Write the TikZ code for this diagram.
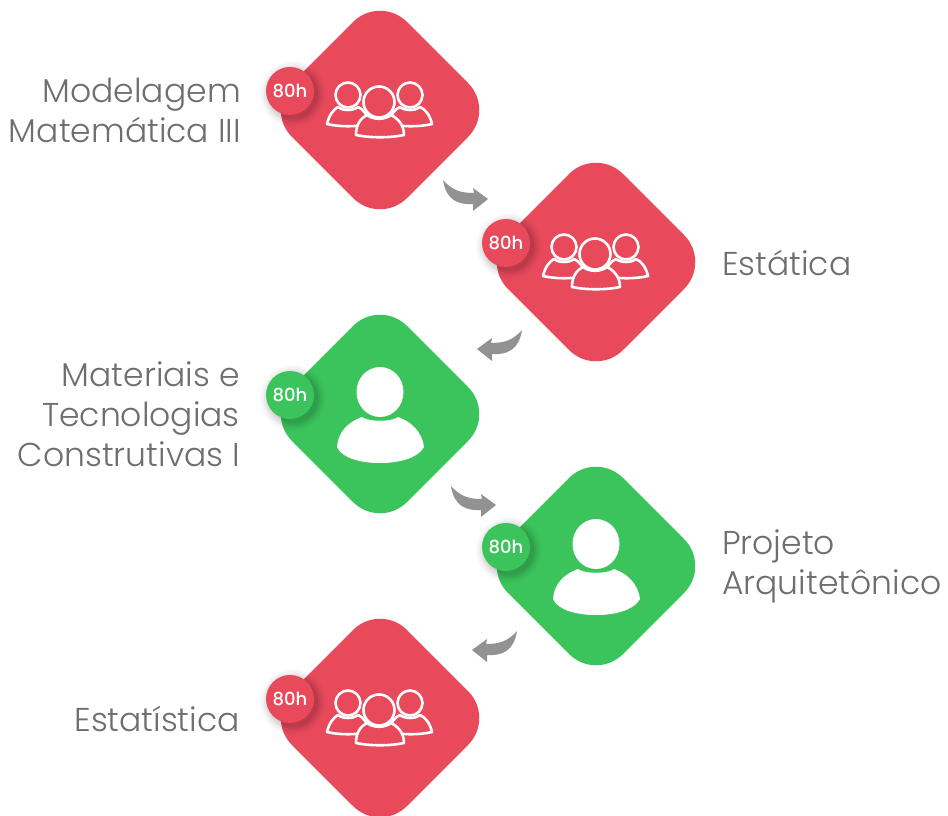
\documentclass[tikz,border=0pt]{standalone}
\usepackage{fontspec}
\setmainfont{Poppins}[UprightFont=* Light]
\newfontfamily\badgefont{Poppins}[UprightFont=* Medium]
\definecolor{redc}{HTML}{E84A5C}
\definecolor{greenc}{HTML}{3CC45C}
\definecolor{textc}{HTML}{6E6E6E}
\definecolor{arrowc}{HTML}{929292}
\tikzset{
  x=1pt,y=-1pt,
  label/.style={text=textc,font=\fontsize{33}{40}\selectfont,inner sep=0pt},
  lefttext/.style={label,anchor=east,align=right},
  righttext/.style={label,anchor=west,align=left},
  badgetext/.style={text=white,font=\badgefont\fontsize{18}{20}\selectfont,inner sep=0pt},
  icon/.style={draw=white,line width=2.6pt,line join=round},
  pics/card/.style={code={
    \fill[#1,rounded corners=38pt] (-115,0) -- (0,-115) -- (115,0) -- (0,115) -- cycle;
  }},
  pics/badge/.style={code={
    \foreach \r/\o in {33/.02,31/.03,29/.04,27/.05,25/.06}
      \fill[black,opacity=\o] (-87,-16) circle[radius=\r];
    \fill[#1] (-90,-19) circle[radius=24];
    \node[badgetext] at (-90,-19) {80h};
  }},
  pics/group/.style={code={
    % side persons
    \draw[icon] (-32,-15) circle[radius=12.5];
    \draw[icon] (30,-15) circle[radius=12.5];
    \draw[icon] (-53,14) .. controls (-51,5) and (-46,-1) .. (-42,-3)
       .. controls (-37,1) and (-27,1) .. (-22,-3) .. controls (-17,-1) and (-12,5) .. (-11,14)
       .. controls (-24,17) and (-40,17) .. (-53,14) -- cycle;
    \draw[icon] (52,14) .. controls (50,5) and (45,-1) .. (40,-3)
       .. controls (35,1) and (25,1) .. (20,-3) .. controls (15,-1) and (10,5) .. (9,14)
       .. controls (22,17) and (39,17) .. (52,14) -- cycle;
    % centre person
    \draw[icon,fill=#1] (-1,-8) circle[radius=15.5];
    \draw[icon,fill=#1] (-24,25) .. controls (-24,14) and (-19,8) .. (-13,5)
       .. controls (-7,10) and (5,10) .. (11,5) .. controls (17,8) and (24,14) .. (24,25)
       .. controls (10,28) and (-10,28) .. (-24,25) -- cycle;
  }},
  pics/solo/.style={code={
    \fill[white] (0,-22) ellipse[x radius=23.5,y radius=25];
    \fill[white] (-43,33) .. controls (-42,18) and (-32,8) .. (-18,3)
      .. controls (-12,8) and (12,8) .. (18,3) .. controls (32,8) and (42,18) .. (44,33)
      .. controls (38,44) and (20,49) .. (0,49) .. controls (-20,49) and (-38,44) .. (-43,33) -- cycle;
  }},
  pics/bend/.style={code={
    \fill[arrowc] (-45,-19) .. controls (-36,-9) and (-28,-6) .. (-14,-6) -- (-15,-11) -- (0,0)
      -- (-15,12) -- (-15,5) .. controls (-30,6) and (-42,1) .. (-45,-19) -- cycle;
  }}
}
\begin{document}
\begin{tikzpicture}
\useasboundingbox (0,0) rectangle (948,816);
\coordinate (c1) at (380,110);
\coordinate (c2) at (596,262);
\coordinate (c3) at (380,414);
\coordinate (c4) at (596,566);
\coordinate (c5) at (380,718);
\coordinate (a1) at (488,199);
\coordinate (a2) at (477,349);
\coordinate (a3) at (496,505);
\coordinate (a4) at (472,650);

\pic at (c1) {card=redc};
\pic at (c2) {card=redc};
\pic at (c3) {card=greenc};
\pic at (c4) {card=greenc};
\pic at (c5) {card=redc};

\pic at (c1) {group=redc};
\pic at (c2) {group=redc};
\pic at (c3) {solo};
\pic at (c4) {solo};
\pic at (c5) {group=redc};

\pic at (c1) {badge=redc};
\pic at (c2) {badge=redc};
\pic at (c3) {badge=greenc};
\pic at (c4) {badge=greenc};
\pic at (c5) {badge=redc};

\pic at (a1) {bend};
\pic[xscale=-1] at (a2) {bend};
\pic at (a3) {bend};
\pic[xscale=-1] at (a4) {bend};

\node[lefttext] (t1) at (241,110) {Modelagem\\Matemática III};
\node[righttext] (t2) at (722,263) {Estática};
\node[lefttext] (t3) at (240,414) {Materiais e\\Tecnologias\\Construtivas I};
\node[righttext] (t4) at (722,566) {Projeto\\Arquitetônico};
\node[lefttext] (t5) at (240,719) {Estatística};
\end{tikzpicture}
\end{document}
